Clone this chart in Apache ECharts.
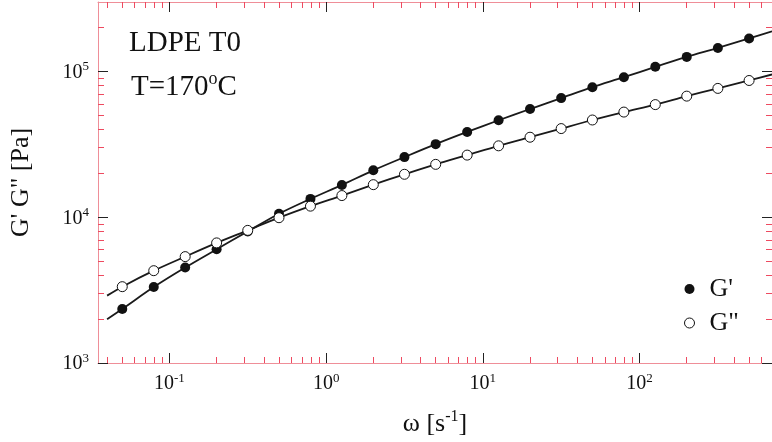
<!DOCTYPE html>
<html><head><meta charset="utf-8">
<script src="https://cdn.jsdelivr.net/npm/echarts@6/dist/echarts.min.js"></script>
<style>html,body{margin:0;padding:0;background:#fff}#c{width:772px;height:442px}</style>
</head><body><div id="c"></div>
<script>
// Data
const omega = [0.05, 0.0794, 0.126, 0.2, 0.316, 0.5, 0.794, 1.26, 2, 3.16, 5, 7.94, 12.6, 20, 31.6, 50, 79.4, 126, 200, 316, 500];
const gPrime = [2350, 3320, 4520, 6030, 8000, 10570, 13370, 16670, 21000, 25870, 31750, 38500, 46300, 55300, 65700, 78100, 91400, 107700, 126000, 145200, 168700];
const gDouble = [3340, 4300, 5370, 6670, 8130, 9930, 11920, 14090, 16740, 19720, 23070, 26700, 30920, 35420, 40600, 46500, 52700, 59300, 67800, 76600, 86800];
// fit-curve end points (extrapolated parts of the fitted lines)
const fitOmegaEnds = [0.04, 700];
const fitGPrimeEnds = [2000, 189000];
const fitGDoubleEnds = [2900, 95500];
// axes
const xRange = [0.035, 700];
const yRange = [1000, 300000];
const xMajor = [0.1, 1, 10, 100];
const xMinor = [0.04,0.05,0.06,0.07,0.08,0.09,0.2,0.3,0.4,0.5,0.6,0.7,0.8,0.9,2,3,4,5,6,7,8,9,20,30,40,50,60,70,80,90,200,300,400,500,600];
const yMajor = [1000, 10000, 100000];
const yMinor = [2000,3000,4000,5000,6000,7000,8000,9000,20000,30000,40000,50000,60000,70000,80000,90000,200000];

const FONT = 'Liberation Serif';
const RED_LINE = '#ef8e98';
const RED_TICK = '#ee4a60';

function pow10Label(v) {
  const e = Math.round(Math.log10(v));
  return '{b|10}{s|' + e + '}';
}
const labelRich = {
  b: {fontFamily: FONT, fontSize: 20, color: '#111', verticalAlign: 'bottom', lineHeight: 22},
  s: {fontFamily: FONT, fontSize: 13, color: '#111', verticalAlign: 'top', lineHeight: 22}
};

function mkAxis(kind, pos, major, withLabel, range) {
  const isMajor = kind === 'major';
  return {
    type: 'log', logBase: 10, position: pos, gridIndex: 0,
    min: range[0], max: range[1],
    splitLine: {show: false},
    axisLine: {show: isMajor, onZero: false, lineStyle: {color: RED_LINE, width: 1}},
    axisTick: {show: true, inside: true, length: isMajor ? 10 : 6,
      customValues: major,
      lineStyle: {color: isMajor ? '#222' : RED_TICK, width: 1}},
    axisLabel: {show: withLabel, customValues: major, formatter: pow10Label, rich: labelRich, margin: 9},
  };
}

const xAxes = [
  Object.assign(mkAxis('major', 'bottom', xMajor, true, xRange), {
    name: '{b|ω [s}{s|-1}{b|]}', nameLocation: 'middle', nameGap: 46,
    nameTextStyle: {rich: {
      b: {fontFamily: FONT, fontSize: 26, color: '#111', verticalAlign: 'bottom', lineHeight: 28},
      s: {fontFamily: FONT, fontSize: 16, color: '#111', verticalAlign: 'top', lineHeight: 28}}}
  }),
  mkAxis('minor', 'bottom', xMinor, false, xRange),
  mkAxis('major', 'top', xMajor, false, xRange),
  mkAxis('minor', 'top', xMinor, false, xRange)
];
const yAxes = [
  Object.assign(mkAxis('major', 'left', yMajor, true, yRange), {
    name: 'G\' G" [Pa]', nameLocation: 'middle', nameGap: 64,
    nameTextStyle: {fontFamily: FONT, fontSize: 26, color: '#111'}
  }),
  mkAxis('minor', 'left', yMinor, false, yRange),
  mkAxis('major', 'right', yMajor, false, yRange),
  mkAxis('minor', 'right', yMinor, false, yRange)
];

const ptsG1 = omega.map((w, i) => [w, gPrime[i]]);
const ptsG2 = omega.map((w, i) => [w, gDouble[i]]);
const fitG1 = [[fitOmegaEnds[0], fitGPrimeEnds[0]]].concat(ptsG1, [[fitOmegaEnds[1], fitGPrimeEnds[1]]]);
const fitG2 = [[fitOmegaEnds[0], fitGDoubleEnds[0]]].concat(ptsG2, [[fitOmegaEnds[1], fitGDoubleEnds[1]]]);

const chart = echarts.init(document.getElementById('c'), null, {renderer: 'canvas'});
chart.setOption({
  animation: false,
  backgroundColor: '#fff',
  grid: {left: 98, top: 2, width: 681, height: 363, containLabel: false},
  title: [
    {text: 'LDPE T0', left: 129, top: 29, padding: 0,
     textStyle: {fontFamily: FONT, fontSize: 29, fontWeight: 'normal', color: '#111'}},
    {text: '{a|T=170}{s|o}{a|C}', left: 131, top: 70, padding: 0,
     textStyle: {fontWeight: 'normal', rich: {
       a: {fontFamily: FONT, fontSize: 29, fontWeight: 'normal', color: '#111', verticalAlign: 'bottom', lineHeight: 32},
       s: {fontFamily: FONT, fontSize: 18, fontWeight: 'normal', color: '#111', verticalAlign: 'top', lineHeight: 32}}}}
  ],
  legend: {
    orient: 'vertical', left: 679, top: 271, itemWidth: 10, itemHeight: 10, itemGap: 8,
    data: [
      {name: 'G\'', icon: 'circle', itemStyle: {color: '#111', opacity: 1}},
      {name: 'G"', icon: 'circle', itemStyle: {color: '#fff', borderColor: '#111', borderWidth: 1, opacity: 1}}
    ],
    textStyle: {fontFamily: FONT, fontSize: 26, color: '#111', padding: [0, 0, 0, 10]}
  },
  xAxis: xAxes,
  yAxis: yAxes,
  series: [
    {type: 'line', data: fitG1, smooth: 0.3, showSymbol: false, silent: true,
     lineStyle: {color: '#1a1a1a', width: 1.8}, z: 1},
    {type: 'line', data: fitG2, smooth: 0.3, showSymbol: false, silent: true,
     lineStyle: {color: '#1a1a1a', width: 1.8}, z: 1},
    {name: 'G\'', type: 'scatter', data: ptsG1, symbol: 'circle', symbolSize: 10,
     itemStyle: {color: '#111', opacity: 1}, z: 3},
    {name: 'G"', type: 'scatter', data: ptsG2, symbol: 'circle', symbolSize: 10,
     itemStyle: {color: '#fff', borderColor: '#111', borderWidth: 1, opacity: 1}, z: 3}
  ]
});
</script></body></html>
